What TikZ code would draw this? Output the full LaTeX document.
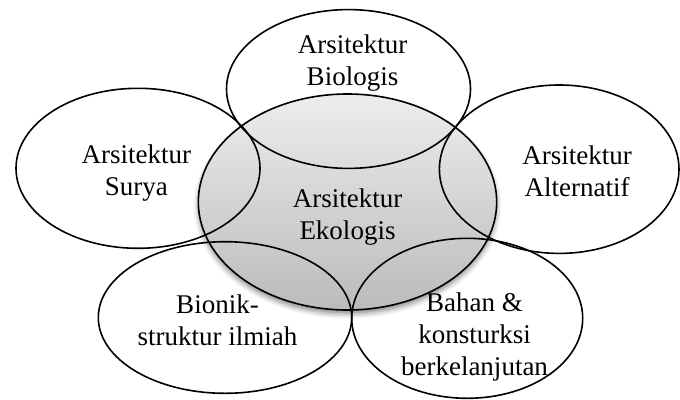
\documentclass[tikz,border=0pt]{standalone}
\usepackage{fontspec}
\setmainfont{Liberation Serif}
\usetikzlibrary{shadows.blur}
\definecolor{shtop}{HTML}{EDEDED}
\definecolor{shbot}{HTML}{BBBBBB}
\begin{document}
\begin{tikzpicture}[x=1pt,y=-1pt,
  ring/.style={draw=black, line width=1.6pt},
  lbl/.style={font=\fontsize{27}{32}\selectfont, align=center, inner sep=0pt, anchor=base}]
\useasboundingbox (0,0) rectangle (680,399);
\coordinate (cE) at (347.5,202);
\coordinate (cBio) at (348.5,89);
\coordinate (cSur) at (138,168.3);
\coordinate (cAlt) at (559.2,169.2);
\coordinate (cBion) at (225,317.5);
\coordinate (cBah) at (467.2,318.3);
% central shaded ellipse
\path[top color=shtop, bottom color=shbot,
  blur shadow={shadow xshift=0pt, shadow yshift=-4pt, shadow blur radius=5pt, shadow opacity=45}]
  (cE) ellipse [x radius=149.2pt, y radius=108pt];
% outlines
\draw[ring] (cE) ellipse [x radius=149.2pt, y radius=108pt];
\draw[ring] (cBio) ellipse [x radius=122pt, y radius=79.4pt];
\draw[ring] (cSur) ellipse [x radius=122pt, y radius=80pt];
\draw[ring] (cAlt) ellipse [x radius=119.8pt, y radius=84.2pt];
\draw[ring] (cBion) ellipse [x radius=126.7pt, y radius=75.8pt];
\draw[ring] (cBah) ellipse [x radius=115.5pt, y radius=80pt];
% labels (base anchor = baseline of last line)
\node[lbl] (tBio) at (352.5,85) {Arsitektur\\Biologis};
\node[lbl] (tSur) at (136.4,195) {Arsitektur\\Surya};
\node[lbl] (tAlt) at (577,196) {Arsitektur\\Alternatif};
\node[lbl] (tE) at (347.5,239.3) {Arsitektur\\Ekologis};
\node[lbl] (tBion) at (217.5,345) {Bionik-\\struktur ilmiah};
\node[lbl] (tBah) at (474.5,375) {Bahan \&\\konsturksi\\berkelanjutan};
\end{tikzpicture}
\end{document}
